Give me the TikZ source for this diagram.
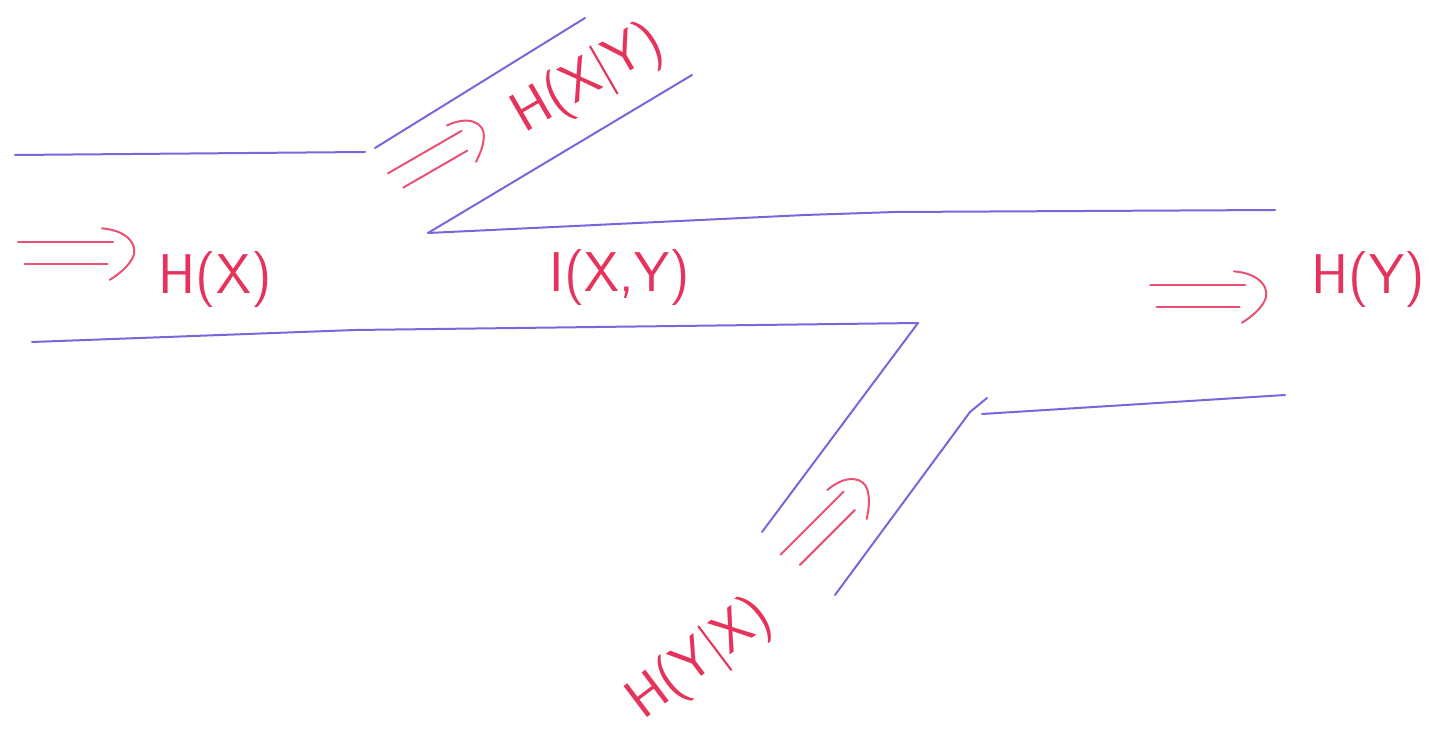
\documentclass[tikz,border=0pt]{standalone}
\usepackage{tikz}
\definecolor{pipeblue}{HTML}{7468DC}
\definecolor{inkred}{HTML}{E5335C}
\tikzset{
  pipe/.style={draw=pipeblue,line width=1pt,line cap=round,line join=round},
  arrowline/.style={draw=inkred!85,line width=1pt,line cap=round},
  flowlabel/.style={text=inkred,font=\sffamily\fontsize{28}{32}\selectfont,inner sep=0pt},
  flowarrow/.pic={
    \draw[arrowline] (0,-10) -- (85,-10);
    \draw[arrowline] (6,10) -- (80,10);
    \draw[arrowline] (75,-22) .. controls (100,-20) and (108,-5) .. (102,5)
                     .. controls (97,14) and (88,20) .. (82,24);
  },
}
\begin{document}
\begin{tikzpicture}[x=0.5pt,y=-0.5pt]
  \useasboundingbox (0,0) rectangle (1455,753);
  % junctions
  \coordinate (splitX) at (428,233);
  \coordinate (joinY) at (918,323);
  % pipe walls
  \draw[pipe] (15,155) -- (365,152);
  \draw[pipe] (375,148) -- (585,18);
  \draw[pipe] (splitX) -- (692,75);
  \draw[pipe] (splitX) -- (805,215) -- (895,212) -- (1275,210);
  \draw[pipe] (32,342) -- (355,330) -- (joinY);
  \draw[pipe] (joinY) -- (762,532);
  \draw[pipe] (987,398) -- (970,412) -- (835,595);
  \draw[pipe] (982,414) -- (1285,395);
  % flow arrows
  \pic[scale=1.12] at (18,253) {flowarrow};
  \pic[scale=1.0,rotate=30] at (393,182) {flowarrow};
  \pic[scale=1.12] at (1150,296) {flowarrow};
  \pic[scale=1.05,rotate=45] at (788,562) {flowarrow};
  % labels
  \node[flowlabel] (hx) at (215,280) {H(X)};
  \node[flowlabel,rotate=30] (hxy) at (588,80) {H(X|Y)};
  \node[flowlabel] (ixy) at (620,278) {I(X,Y)};
  \node[flowlabel] (hy) at (1368,280) {H(Y)};
  \node[flowlabel,rotate=37] (hyx) at (700,660) {H(Y|X)};
\end{tikzpicture}
\end{document}
